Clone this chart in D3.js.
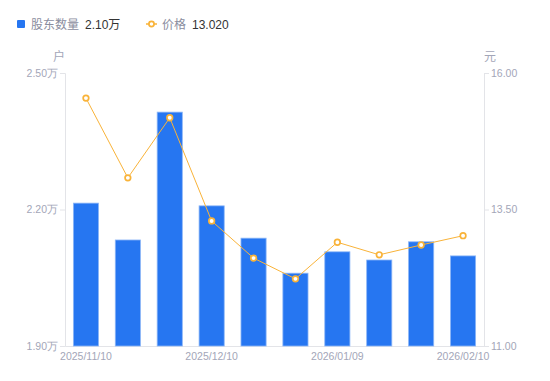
<!DOCTYPE html>
<html>
<head>
<meta charset="utf-8">
<script src="https://cdn.jsdelivr.net/npm/d3@7"></script>
<style>
  body { margin: 0; background: #fff; }
  svg { font-family: "Liberation Sans", "Noto Sans CJK SC", sans-serif; }
</style>
</head>
<body>
<svg id="chart" width="550" height="381"></svg>
<script>
// data
const dates = ["2025/11/10", "2025/11/20", "2025/11/28", "2025/12/10", "2025/12/19",
               "2025/12/31", "2026/01/09", "2026/01/20", "2026/01/30", "2026/02/10"];
const holders = [2.214, 2.133, 2.414, 2.208, 2.137, 2.060, 2.107, 2.089, 2.129, 2.098]; // 万户
const prices = [15.54, 14.08, 15.18, 13.29, 12.61, 12.23, 12.90, 12.67, 12.85, 13.02];
const shownDates = ["2025/11/10", "2025/12/10", "2026/01/09", "2026/02/10"];
const leftTicks = [1.90, 2.20, 2.50];
const rightTicks = [11.00, 13.50, 16.00];

const svg = d3.select("#chart");
const margin = { top: 73, right: 66, bottom: 35, left: 65 };
const innerW = +svg.attr("width") - margin.left - margin.right;
const innerH = +svg.attr("height") - margin.top - margin.bottom;

const g = svg.append("g")
    .attr("transform", `translate(${margin.left},${margin.top})`);

const x = d3.scaleBand().domain(dates).range([0, innerW]).paddingInner(0.4).paddingOuter(0.2);
const yL = d3.scaleLinear().domain([1.90, 2.50]).range([innerH, 0]);
const yR = d3.scaleLinear().domain([11, 16]).range([innerH, 0]);

const axisColor = "#e3e4e8";
const labelColor = "#a3a6b8";

// left axis
const leftAxis = g.append("g")
    .call(d3.axisLeft(yL).tickValues(leftTicks).tickSize(5).tickFormat(d => d3.format(".2f")(d) + "万"));
// right axis
const rightAxis = g.append("g")
    .attr("transform", `translate(${innerW},0)`)
    .call(d3.axisRight(yR).tickValues(rightTicks).tickSize(5).tickFormat(d3.format(".2f")));
// bottom axis
const bottomAxis = g.append("g")
    .attr("transform", `translate(0,${innerH})`)
    .call(d3.axisBottom(x).tickValues(shownDates).tickSize(0).tickPadding(7));

[leftAxis, rightAxis, bottomAxis].forEach(a => {
    a.select(".domain").attr("stroke", axisColor);
    a.selectAll(".tick line").attr("stroke", axisColor);
    a.selectAll("text").attr("fill", labelColor).style("font-size", "10.5px");
});
leftAxis.selectAll("text").attr("x", -7);
rightAxis.selectAll("text").attr("x", 7);

// unit labels
svg.append("text").attr("x", 59).attr("y", 61).attr("text-anchor", "middle")
    .attr("fill", labelColor).style("font-size", "12px").text("户");
svg.append("text").attr("x", 490).attr("y", 61).attr("text-anchor", "middle")
    .attr("fill", labelColor).style("font-size", "12px").text("元");

// bars
g.selectAll("rect.bar")
    .data(dates)
    .enter()
    .append("rect")
    .attr("class", "bar")
    .attr("x", d => x(d))
    .attr("width", x.bandwidth())
    .attr("y", (d, i) => yL(holders[i]))
    .attr("height", (d, i) => innerH - yL(holders[i]))
    .attr("fill", "#2676f1")
    .attr("stroke", "#8cb6f7")
    .attr("stroke-width", 0.8);

// price line
const priceColor = "#f9b339";
const line = d3.line()
    .x((d, i) => x(dates[i]) + x.bandwidth() / 2)
    .y(d => yR(d));

g.append("path")
    .datum(prices)
    .attr("d", line)
    .attr("fill", "none")
    .attr("stroke", priceColor)
    .attr("stroke-width", 1);

g.selectAll("circle.pt")
    .data(prices)
    .enter()
    .append("circle")
    .attr("class", "pt")
    .attr("cx", (d, i) => x(dates[i]) + x.bandwidth() / 2)
    .attr("cy", d => yR(d))
    .attr("r", 2.8)
    .attr("fill", "#fff")
    .attr("stroke", priceColor)
    .attr("stroke-width", 1.7);

// legend
const legend = svg.append("g").style("font-size", "12px");
legend.append("rect").attr("x", 17).attr("y", 20).attr("width", 8).attr("height", 8)
    .attr("rx", 1).attr("fill", "#2676f1");
legend.append("text").attr("x", 31).attr("y", 28.5).attr("fill", "#8a8d9e").text("股东数量");
legend.append("text").attr("x", 85).attr("y", 28.5).attr("fill", "#333").text("2.10万");

legend.append("line").attr("x1", 146).attr("x2", 157).attr("y1", 24).attr("y2", 24)
    .attr("stroke", priceColor).attr("stroke-width", 1.5);
legend.append("circle").attr("cx", 151.5).attr("cy", 24).attr("r", 2.6)
    .attr("fill", "#fff").attr("stroke", priceColor).attr("stroke-width", 1.7);
legend.append("text").attr("x", 162).attr("y", 28.5).attr("fill", "#8a8d9e").text("价格");
legend.append("text").attr("x", 192).attr("y", 28.5).attr("fill", "#333")
    .text(d3.format(".3f")(prices[prices.length - 1]));
</script>
</body>
</html>
